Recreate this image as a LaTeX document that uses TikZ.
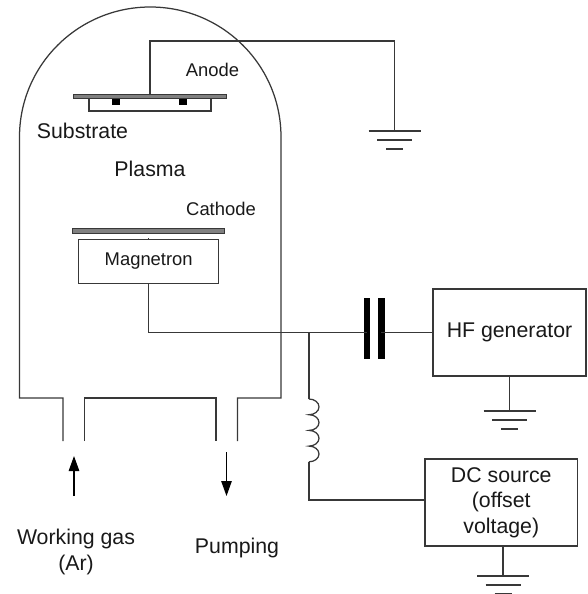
\documentclass[tikz,border=0pt]{standalone}
\usepackage{fontspec}
\setmainfont{Liberation Sans}
\usetikzlibrary{arrows.meta}
\tikzset{
 wire/.style={draw=black!78,line width=1.25pt},
 lab/.style={inner sep=0pt,font=\fontsize{18.4}{21}\selectfont,align=center,text=black!90},
 labbig/.style={lab,font=\fontsize{21.3}{25.5}\selectfont},
 boxn/.style={draw=black!78,line width=1.25pt,fill=white,inner sep=0pt},
 plate/.style={draw=black!78,fill=black!50,line width=1pt},
 gnd/.style={draw=black!78,line width=1.1pt},
 flowarrow/.style={wire,draw=black,-{Triangle[length=15pt,width=10.5pt]}}
}
\newcommand{\grnd}[2]{%
 \draw[gnd] (#1-26,#2)--(#1+26,#2);
 \draw[gnd] (#1-17.5,#2+9)--(#1+17.5,#2+9);
 \draw[gnd] (#1-8.5,#2+18)--(#1+8.5,#2+18);}
\begin{document}
\begin{tikzpicture}[x=1pt,y=-1pt]
\useasboundingbox (0,0) rectangle (587,594);
% chamber
\draw[wire] (63,441)--(63,398)--(19.5,398)--(19.5,137)
 arc[start angle=180,end angle=0,x radius=130.75,y radius=-130]
 --(281,398)--(237.5,398)--(237.5,441);
\draw[wire] (84.5,441)--(84.5,398)--(216,398)--(216,441);
% anode
\draw[wire] (89,97) rectangle (211,111);
\fill[black] (112,98) rectangle (120,105);
\fill[black] (179,98) rectangle (187,105);
\draw[plate] (73.5,94) rectangle (226.5,98);
\coordinate (anodeT) at (150,95);
\coordinate (gndA) at (394.5,131);
\draw[wire] (anodeT)--(150,41)--(394.5,41)--(gndA);
\grnd{394.5}{131}
% cathode
\draw[plate] (72,228.7) rectangle (224.5,233.5);
\node[boxn,lab,minimum width=140pt,minimum height=44pt] (mag) at (148.7,261.3) {Magnetron};
\draw[wire,line width=.6pt] (148.7,238)--(mag.north);
% wiring
\coordinate (j) at (309,332.5);
\coordinate (capL) at (367,332.5);
\coordinate (capR) at (381,332.5);
\fill[black] (363.7,298) rectangle (370.3,359);
\fill[black] (378,298) rectangle (384.7,359);
\node[boxn,labbig,minimum width=153pt,minimum height=87pt] (hf) at (509.5,332.5) {HF generator};
\node[boxn,labbig,minimum width=152.5pt,minimum height=87pt] (dc) at (501.25,502.5) {DC source\\(offset\\voltage)};
\draw[wire] (mag.south)--(148.7,332.5)--(capL);
\draw[wire] (capR)--(hf.west);
\coordinate (lt) at (309,399);
\coordinate (lb) at (309,461.8);
\coordinate (dcin) at (309,500);
\draw[wire] (j)--(lt);
\draw[wire] (lt) arc[start angle=90,end angle=-90,x radius=10,y radius=-7.85]
 arc[start angle=90,end angle=-90,x radius=10,y radius=-7.85]
 arc[start angle=90,end angle=-90,x radius=10,y radius=-7.85]
 arc[start angle=90,end angle=-90,x radius=10,y radius=-7.85];
\draw[wire] (lb)--(dcin)--(dcin -| dc.west);
\coordinate (gh) at (509.5,411);
\draw[wire] (hf.south)--(gh);
\grnd{509.5}{411}
\coordinate (gd) at (503,576);
\draw[wire] (gd |- dc.south)--(gd);
\grnd{503}{576}
% arrows
\coordinate (a1s) at (74,496);
\coordinate (a1e) at (74,456);
\coordinate (a2s) at (226.5,452);
\coordinate (a2e) at (226.5,496);
\draw[flowarrow] (a1s)--(a1e);
\draw[flowarrow] (a2s)--(a2e);
% labels
\node[lab] (anode) at (212.5,69.5) {Anode};
\node[labbig] (substrate) at (82.5,131) {Substrate};
\node[labbig] (plasma) at (150,169) {Plasma};
\node[lab] (cathode) at (221,209) {Cathode};
\node[labbig] (gas) at (76,552) {Working gas\\(Ar)};
\node[labbig] (pump) at (237,548) {Pumping};
\end{tikzpicture}
\end{document}
